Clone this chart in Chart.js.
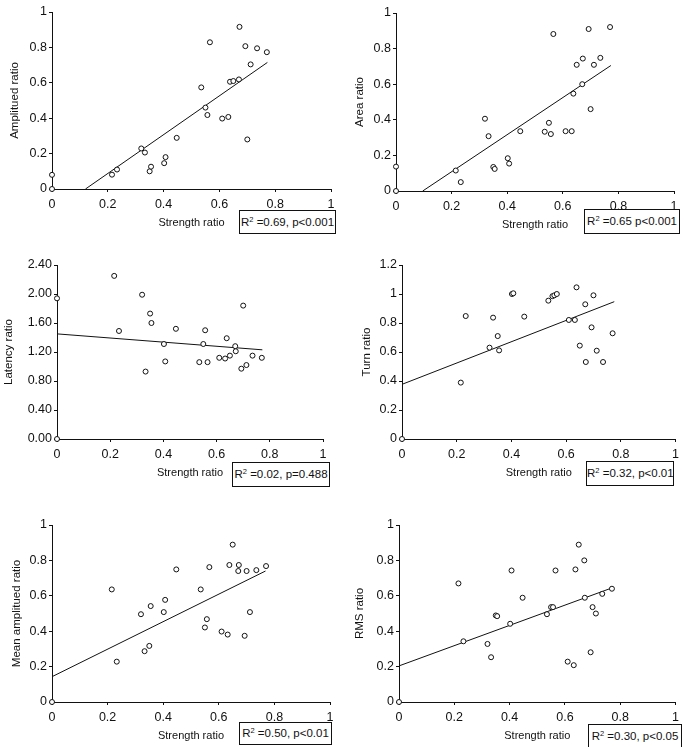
<!DOCTYPE html>
<html lang="en">
<head>
<meta charset="UTF-8">
<title>Strength ratio correlations</title>
<script src="https://cdn.jsdelivr.net/npm/chart.js"></script>
<style>
    body { margin: 0; background: #fff; font-family: "Liberation Sans", Arial, sans-serif; overflow: hidden; }
    #page { position: relative; width: 684px; height: 747px; }
    .panel { position: absolute; }
    .stat {
        position: absolute; box-sizing: border-box; border: 1px solid #111; background: #fff;
        font-size: 11.5px; color: #111; text-align: center; white-space: nowrap;
    }
    .stat sup { font-size: 7.5px; vertical-align: 4px; line-height: 0; }
</style>
</head>
<body>
<div id="page"></div>
<script>
    // strength ratio (shared x values)
    const strength = [0.215, 0.233, 0.32, 0.333, 0.35, 0.355, 0.402, 0.407, 0.447, 0.535, 0.55, 0.557,
                      0.566, 0.61, 0.632, 0.638, 0.65, 0.67, 0.672, 0.693, 0.70, 0.712, 0.735, 0.77];

    const amplitudeRatio = [0.081, 0.11, 0.229, 0.206, 0.10, 0.126, 0.146, 0.18, 0.289, 0.574, 0.46, 0.418,
                            0.829, 0.398, 0.407, 0.606, 0.61, 0.619, 0.916, 0.807, 0.28, 0.704, 0.795, 0.773];
    const areaRatio = [0.115, 0.05, 0.406, 0.308, 0.135, 0.124, 0.184, 0.154, 0.336, 0.333, 0.383, 0.32,
                       0.882, 0.336, 0.336, 0.547, 0.709, 0.60, 0.744, 0.91, 0.46, 0.709, 0.748, 0.921];
    const latencyRatio = [2.25, 1.49, 1.99, 0.93, 1.73, 1.60, 1.31, 1.07, 1.52, 1.06, 1.31, 1.50,
                          1.06, 1.12, 1.11, 1.39, 1.15, 1.28, 1.21, 0.97, 1.84, 1.02, 1.15, 1.12];
    const turnRatio = [0.389, 0.848, 0.63, 0.837, 0.71, 0.611, 1.0, 1.005, 0.844, 0.954, 0.985, 0.991,
                       1.0, 0.821, 0.821, 1.046, 0.644, 0.929, 0.531, 0.77, 0.991, 0.609, 0.531, 0.729];
    const meanAmplitudeRatio = [0.636, 0.228, 0.496, 0.287, 0.317, 0.542, 0.508, 0.577, 0.749, 0.636, 0.421, 0.468,
                                0.762, 0.398, 0.381, 0.774, 0.889, 0.74, 0.774, 0.374, 0.74, 0.508, 0.745, 0.768];
    const rmsRatio = [0.67, 0.343, 0.328, 0.253, 0.489, 0.485, 0.442, 0.743, 0.589, 0.496, 0.536, 0.536,
                      0.743, 0.228, 0.208, 0.749, 0.889, 0.80, 0.589, 0.281, 0.536, 0.50, 0.611, 0.64];

    // extra points sitting on the y axis (strength ratio = 0)
    const amplitudeAtZero = [0, 0.08];
    const areaAtZero = [0, 0.137];
    const latencyAtZero = [0, 1.94];
    const turnAtZero = [0];
    const meanAmplitudeAtZero = [0];
    const rmsAtZero = [0];

    // fitted trend lines, [x, y] end points
    const amplitudeFit = [[0.12, 0], [0.772, 0.715]];
    const areaFit = [[0.096, 0], [0.773, 0.705]];
    const latencyFit = [[0, 1.45], [0.772, 1.23]];
    const turnFit = [[0, 0.377], [0.776, 0.947]];
    const meanAmplitudeFit = [[0, 0.143], [0.768, 0.74]];
    const rmsFit = [[0, 0.204], [0.771, 0.645]];

    const xTicks = [0, 0.2, 0.4, 0.6, 0.8, 1];

    const panels = [
        { col: 0,   L: 52,  R: 331, T: 12,  B: 189, titleX: 15, yTitle: 'Amplitued ratio', yMax: 1, yStep: 0.2,
          ys: amplitudeRatio, zero: amplitudeAtZero, fit: amplitudeFit,
          stat: ['0.69, p&lt;0.001'], box: [239, 210, 97, 24] },
        { col: 342, L: 396, R: 674, T: 13,  B: 191, titleX: 18, yTitle: 'Area ratio', yMax: 1, yStep: 0.2,
          ys: areaRatio, zero: areaAtZero, fit: areaFit,
          stat: ['0.65 p&lt;0.001'], box: [584, 209, 96, 25] },
        { col: 0,   L: 57,  R: 323, T: 265, B: 439, titleX: 9, yTitle: 'Latency ratio', yMax: 2.4, yStep: 0.4, fixed: 2,
          ys: latencyRatio, zero: latencyAtZero, fit: latencyFit,
          stat: ['0.02, p=0.488'], box: [232, 462, 98, 25] },
        { col: 342, L: 402, R: 678, T: 265, B: 439, titleX: 25, yTitle: 'Turn ratio', yMax: 1.2, yStep: 0.2,
          ys: turnRatio, zero: turnAtZero, fit: turnFit,
          stat: ['0.32, p&lt;0.01'], box: [586, 461, 88, 25] },
        { col: 0,   L: 52,  R: 330, T: 525, B: 702, titleX: 17, yTitle: 'Mean amplitued ratio', yMax: 1, yStep: 0.2,
          ys: meanAmplitudeRatio, zero: meanAmplitudeAtZero, fit: meanAmplitudeFit,
          stat: ['0.50, p&lt;0.01'], box: [239, 722, 93, 23] },
        { col: 342, L: 399, R: 676, T: 525, B: 702, titleX: 18, yTitle: 'RMS ratio', yMax: 1, yStep: 0.2,
          ys: rmsRatio, zero: rmsAtZero, fit: rmsFit,
          stat: ['0.30, p&lt;0.05'], box: [588, 724, 94, 24] }
    ];

    const page = document.getElementById('page');
    const ink = '#111';

    function drawPanel(p) {
        const top = p.T - 12;
        const height = p.B + 51 - top;
        const wrap = document.createElement('div');
        wrap.className = 'panel';
        wrap.style.left = p.col + 'px';
        wrap.style.top = top + 'px';
        const canvas = document.createElement('canvas');
        canvas.width = 342;
        canvas.height = height;
        canvas.style.width = '342px';
        canvas.style.height = height + 'px';
        wrap.appendChild(canvas);
        page.appendChild(wrap);

        const points = strength.map((x, i) => ({ x: x, y: p.ys[i] }))
            .concat(p.zero.map(y => ({ x: 0, y: y })));
        const line = p.fit.map(([x, y]) => ({ x: x, y: y }));

        new Chart(canvas, {
            type: 'scatter',
            data: {
                datasets: [
                    { type: 'line', data: line, borderColor: ink, borderWidth: 1, pointRadius: 0,
                      fill: false, clip: false, order: 1 },
                    { data: points, pointRadius: 2.5, pointBorderWidth: 1, pointBorderColor: ink,
                      pointBackgroundColor: '#fff', clip: false, order: 0 }
                ]
            },
            options: {
                responsive: false,
                animation: false,
                layout: { padding: { left: 0, top: 12, right: p.col + 342 - p.R, bottom: 0 } },
                plugins: { legend: { display: false }, tooltip: { enabled: false } },
                scales: {
                    x: {
                        type: 'linear', min: 0, max: 1,
                        afterBuildTicks: s => { s.ticks = xTicks.map(v => ({ value: v })); },
                        ticks: { color: ink, font: { size: 12.5 }, padding: 5, callback: v => String(v) },
                        grid: { drawOnChartArea: false, color: ink, tickLength: 3 },
                        border: { color: ink, width: 1 },
                        title: { display: true, text: 'Strength ratio', color: ink, font: { size: 11 },
                                 padding: { top: 0, bottom: 10 } },
                        afterFit: s => { s.height = 51; }
                    },
                    y: {
                        min: 0, max: p.yMax,
                        ticks: {
                            stepSize: p.yStep, color: ink, font: { size: 12.5 }, padding: 2,
                            callback: v => p.fixed ? v.toFixed(p.fixed) : String(Math.round(v * 10) / 10)
                        },
                        grid: { drawOnChartArea: false, color: ink, tickLength: 3 },
                        border: { color: ink, width: 1 },
                        title: { display: true, text: p.yTitle, color: ink, font: { size: 11.5 },
                                 padding: { top: p.titleX - 7, bottom: 0 } },
                        afterFit: s => { s.width = p.L - p.col; }
                    }
                }
            }
        });

        const box = document.createElement('div');
        box.className = 'stat';
        box.style.left = p.box[0] + 'px';
        box.style.top = p.box[1] + 'px';
        box.style.width = p.box[2] + 'px';
        box.style.height = p.box[3] + 'px';
        box.style.lineHeight = (p.box[3] - 2) + 'px';
        box.innerHTML = 'R<sup>2</sup> =' + p.stat[0];
        page.appendChild(box);
    }

    panels.forEach(drawPanel);
</script>
</body>
</html>
